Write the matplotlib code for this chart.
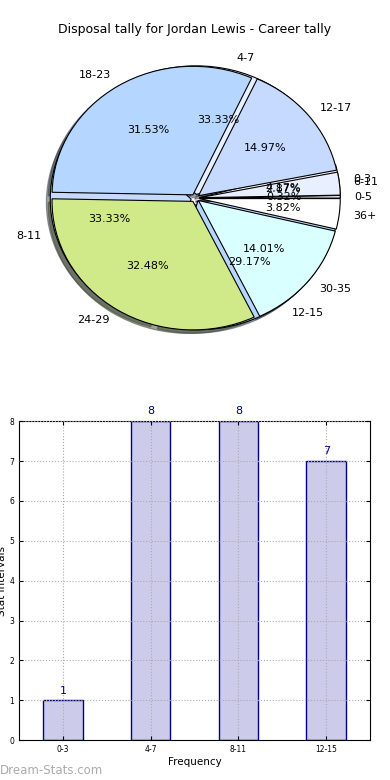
import numpy as np
import matplotlib
matplotlib.use("Agg")
import matplotlib.pyplot as plt

# career disposal tally (pie 2)
tally_labels = ['0-5', '6-11', '12-17', '18-23', '24-29', '30-35', '36+']
tally_counts = [1, 9, 47, 99, 102, 44, 12]

# stat interval frequency (pie 1 and bar chart)
interval_labels = ['0-3', '4-7', '8-11', '12-15']
interval_counts = [1, 8, 8, 7]

slice_colors = ['#f8f8ff', '#e8f0ff', '#c6d9ff', '#b5d7ff', '#d0ea8a', '#d9ffff', '#ffffff']

fig = plt.figure(figsize=(3.9, 7.8), dpi=100)

ax1 = fig.add_axes([0.049, 0.54, 0.903, 0.412])
ax1.pie(interval_counts, labels=interval_labels, colors=slice_colors[:4],
        autopct='%1.2f%%', explode=[0.03] * 4, shadow=True, startangle=0,
        wedgeprops={'edgecolor': 'black', 'linewidth': 0.8},
        textprops={'fontsize': 8})
ax1.pie(tally_counts, labels=tally_labels, colors=slice_colors,
        autopct='%1.2f%%', explode=[0.03] * 7, shadow=True, startangle=0,
        wedgeprops={'edgecolor': 'black', 'linewidth': 0.8},
        textprops={'fontsize': 8})
ax1.set_aspect('auto')
ax1.set_xlim(-1.25, 1.25)
ax1.set_ylim(-1.25, 1.25)
fig.text(0.5, 0.962, 'Disposal tally for Jordan Lewis - Career tally',
         ha='center', va='center', fontsize=9)

ax2 = fig.add_axes([0.049, 0.051, 0.9, 0.409])
x = np.arange(len(interval_labels))
bars = ax2.bar(x, interval_counts, width=0.45, color='#ccccea',
               edgecolor='#000080', linewidth=1)
for xi, v in zip(x, interval_counts):
    ax2.text(xi, v + 0.12, str(v), ha='center', va='bottom',
             color='#000080', fontsize=8)
ax2.set_xlim(-0.5, 3.5)
ax2.set_ylim(0, 8)
ax2.set_xticks(x)
ax2.set_xticklabels(interval_labels)
ax2.set_yticks(range(9))
ax2.tick_params(labelsize=5.5, direction='in', length=3, top=True, right=True)
ax2.grid(True, linestyle=':', color='#aaaaaa', linewidth=0.8)
ax2.set_axisbelow(False)
for b in bars:
    b.set_zorder(1)
ax2.set_xlabel('Frequency', fontsize=7.5, labelpad=2)
ax2.set_ylabel('Stat Intervals', fontsize=7.5, labelpad=2)

fig.text(0.0, 0.012, 'Dream-Stats.com', fontsize=8.5, color='#aaaaaa',
         ha='left', va='center')

fig.savefig('out.png', dpi=100)
